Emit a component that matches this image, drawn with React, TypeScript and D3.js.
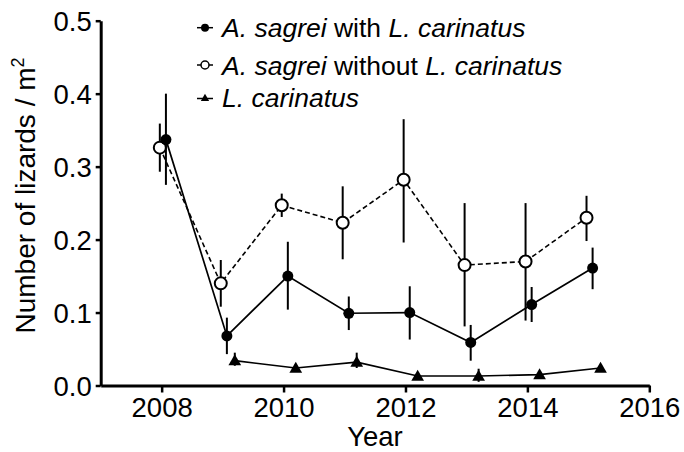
import React, { useEffect, useRef } from "react";
import * as d3 from "d3";

const years = [2008, 2009, 2010, 2011, 2012, 2013, 2014, 2015];
const withMean = [0.337, 0.068, 0.15, 0.099, 0.1, 0.059, 0.111, 0.161];
const withLo = [0.275, 0.043, 0.104, 0.076, 0.063, 0.034, 0.087, 0.132];
const withHi = [0.4, 0.093, 0.197, 0.122, 0.136, 0.083, 0.135, 0.189];

const withoutMean = [0.326, 0.14, 0.247, 0.223, 0.282, 0.165, 0.17, 0.23];
const withoutLo = [0.293, 0.108, 0.231, 0.173, 0.196, 0.081, 0.089, 0.198];
const withoutHi = [0.359, 0.172, 0.263, 0.273, 0.365, 0.25, 0.25, 0.26];

const lcYears = [2009, 2010, 2011, 2012, 2013, 2014, 2015];
const lcMean = [0.034, 0.024, 0.032, 0.013, 0.013, 0.015, 0.024];
const lcLo = [0.027, 0.019, 0.024, 0.009, 0.005, 0.011, 0.02];
const lcHi = [0.045, 0.029, 0.045, 0.017, 0.023, 0.019, 0.028];

const xTicks = [2008, 2010, 2012, 2014, 2016];
const yTicks = [0, 0.1, 0.2, 0.3, 0.4, 0.5];

const legendLabels = [
  { it1: "A. sagrei", mid: " with ", it2: "L. carinatus" },
  { it1: "A. sagrei", mid: " without ", it2: "L. carinatus" },
  { it1: "", mid: "", it2: "L. carinatus" },
];

const W = 684;
const H = 452;
const FONT = "'Liberation Sans', Arial, Helvetica, sans-serif";

export default function App() {
  const xAxisRef = useRef<SVGGElement>(null);
  const yAxisRef = useRef<SVGGElement>(null);

  const x = d3.scaleLinear().domain([2007, 2016]).range([100.7, 649.3]);
  const y = d3.scaleLinear().domain([0, 0.5]).range([385.5, 20.7]);

  // dodge offsets (in years) per series, as in the original figure
  const offWithout = -0.03;
  const offWith = 0.07;
  const offLc = 0.2;

  useEffect(() => {
    const gx = d3.select(xAxisRef.current!);
    gx.call(
      d3
        .axisBottom(x)
        .tickValues(xTicks)
        .tickFormat(d3.format("d") as any)
        .tickSize(7)
        .tickSizeOuter(0)
        .tickPadding(5)
    );
    const gy = d3.select(yAxisRef.current!);
    gy.call(
      d3
        .axisLeft(y)
        .tickValues(yTicks)
        .tickFormat(d3.format(".1f") as any)
        .tickSize(5)
        .tickSizeOuter(0)
        .tickPadding(4)
    );
    [gx, gy].forEach((g) => {
      g.select(".domain").attr("stroke", "#000").attr("stroke-width", 3);
      g.selectAll(".tick line").attr("stroke", "#000").attr("stroke-width", 2.5);
      g.selectAll(".tick text")
        .attr("fill", "#000")
        .style("font-family", FONT)
        .style("font-size", "27.5px");
    });
    gy.selectAll(".tick text").attr("dy", "0.36em");
  }, []);

  const lineGen = (xs: number[], ys: number[], off: number) =>
    d3
      .line<number>()
      .x((_, i) => x(xs[i] + off))
      .y((d) => y(d))(ys) as string;

  const tri = d3.symbol().type(d3.symbolTriangle).size(70)() as string;
  const triSmall = d3.symbol().type(d3.symbolTriangle).size(30)() as string;

  const legendMarkY = [27.7, 65, 98.5];
  const legendTextY = [37, 74.5, 107];

  return (
    <svg
      width={W}
      height={H}
      style={{ position: "absolute", left: 0, top: 0, background: "#fff" }}
    >
      <rect x={0} y={0} width={W} height={H} fill="#fff" />
      {/* lines */}
      <path
        d={lineGen(years, withoutMean, offWithout)}
        fill="none"
        stroke="#000"
        strokeWidth={1.6}
        strokeDasharray="5,3"
      />
      <path
        d={lineGen(years, withMean, offWith)}
        fill="none"
        stroke="#000"
        strokeWidth={1.7}
      />
      <path
        d={lineGen(lcYears, lcMean, offLc)}
        fill="none"
        stroke="#000"
        strokeWidth={1.7}
      />
      {/* error bars */}
      {years.map((yr, i) => (
        <line
          key={"ewo" + i}
          x1={x(yr + offWithout)}
          x2={x(yr + offWithout)}
          y1={y(withoutLo[i])}
          y2={y(withoutHi[i])}
          stroke="#000"
          strokeWidth={2}
        />
      ))}
      {years.map((yr, i) => (
        <line
          key={"ew" + i}
          x1={x(yr + offWith)}
          x2={x(yr + offWith)}
          y1={y(withLo[i])}
          y2={y(withHi[i])}
          stroke="#000"
          strokeWidth={2}
        />
      ))}
      {lcYears.map((yr, i) => (
        <line
          key={"el" + i}
          x1={x(yr + offLc)}
          x2={x(yr + offLc)}
          y1={y(lcLo[i])}
          y2={y(lcHi[i])}
          stroke="#000"
          strokeWidth={2}
        />
      ))}
      {/* markers */}
      {years.map((yr, i) => (
        <circle
          key={"mwo" + i}
          cx={x(yr + offWithout)}
          cy={y(withoutMean[i])}
          r={6}
          fill="#fff"
          stroke="#000"
          strokeWidth={2}
        />
      ))}
      {years.map((yr, i) => (
        <circle
          key={"mw" + i}
          cx={x(yr + offWith)}
          cy={y(withMean[i])}
          r={5.5}
          fill="#000"
        />
      ))}
      {lcYears.map((yr, i) => (
        <path
          key={"ml" + i}
          d={tri}
          transform={`translate(${x(yr + offLc)},${y(lcMean[i]) + 1})`}
          fill="#000"
        />
      ))}
      {/* axes */}
      <g ref={xAxisRef} transform={`translate(0,${y(0)})`} />
      <g ref={yAxisRef} transform={`translate(${x(2007)},0)`} />
      {/* axis titles */}
      <text
        x={375}
        y={446}
        textAnchor="middle"
        fontFamily={FONT}
        fontSize={27.5}
        fill="#000"
      >
        Year
      </text>
      <text
        transform="translate(35,195.5) rotate(-90)"
        textAnchor="middle"
        fontFamily={FONT}
        fontSize={28}
        fill="#000"
      >
        Number of lizards / m
        <tspan fontSize={18} dy={-11}>
          2
        </tspan>
      </text>
      {/* legend */}
      {legendLabels.map((lab, i) => {
        const cy = legendMarkY[i];
        return (
          <g key={"lg" + i}>
            <line x1={197} x2={213} y1={cy} y2={cy} stroke="#000" strokeWidth={1.5} />
            {i === 0 && <circle cx={205} cy={cy} r={4} fill="#000" />}
            {i === 1 && (
              <circle cx={205} cy={cy} r={4} fill="#fff" stroke="#000" strokeWidth={1.5} />
            )}
            {i === 2 && (
              <path d={triSmall} transform={`translate(205,${cy})`} fill="#000" />
            )}
            <text
              x={222}
              y={legendTextY[i]}
              fontFamily={FONT}
              fontSize={26.5}
              fill="#000"
            >
              {lab.it1 && <tspan fontStyle="italic">{lab.it1}</tspan>}
              {lab.mid && <tspan>{lab.mid}</tspan>}
              <tspan fontStyle="italic">{lab.it2}</tspan>
            </text>
          </g>
        );
      })}
    </svg>
  );
}
